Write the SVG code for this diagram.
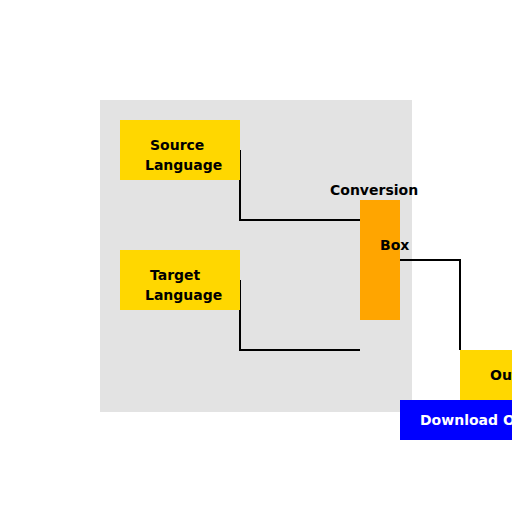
<svg xmlns="http://www.w3.org/2000/svg" width="512" height="512" viewBox="0 0 512 512">
<style>
text{font-family:"DejaVu Sans",sans-serif;font-weight:bold;font-size:14px;fill:#000}
.w{fill:#fff}
.c{fill:none;stroke:#000;stroke-width:2}
</style>
<rect width="512" height="512" fill="#fff"/>
<rect id="panel" x="100" y="100" width="312" height="312" fill="#e3e3e3"/>
<g id="connectors">
<polyline class="c" points="240,150 240,220 360,220"/>
<polyline class="c" points="240,280 240,350 360,350"/>
<polyline class="c" points="400,260 460,260 460,350"/>
</g>
<g id="source">
<rect x="120" y="120" width="120" height="60" fill="#ffd700"/>
<text x="150" y="150">Source</text>
<text x="145" y="170">Language</text>
</g>
<g id="target">
<rect x="120" y="250" width="120" height="60" fill="#ffd700"/>
<text x="150" y="280">Target</text>
<text x="145" y="300">Language</text>
</g>
<g id="conversion">
<rect x="360" y="200" width="40" height="120" fill="#ffa500"/>
<text x="330" y="195">Conversion</text>
<text x="380" y="250">Box</text>
</g>
<g id="output">
<rect x="460" y="350" width="120" height="50" fill="#ffd700"/>
<text x="490" y="380">Output</text>
</g>
<g id="download">
<rect x="400" y="400" width="200" height="40" fill="#0000ff"/>
<text class="w" x="420" y="425">Download Output</text>
</g>
</svg>
